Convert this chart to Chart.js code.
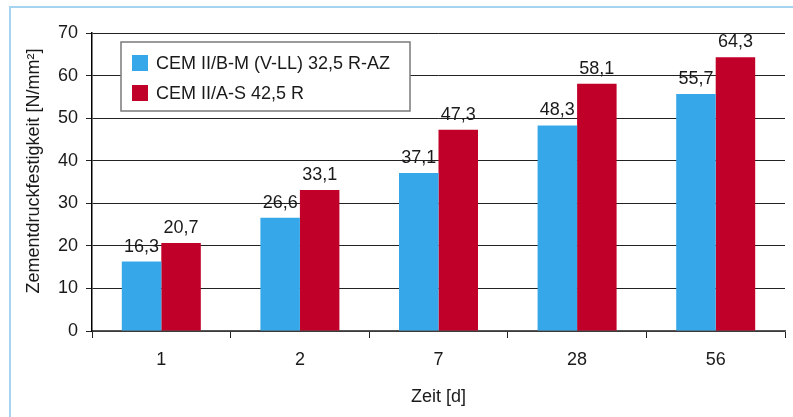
<!DOCTYPE html>
<html>
<head>
<meta charset="utf-8">
<script src="https://cdn.jsdelivr.net/npm/chart.js@4/dist/chart.umd.min.js"></script>
<style>
  html, body { margin: 0; padding: 0; background: #fff; }
  #wrap { width: 793px; height: 417px; position: relative; }
</style>
</head>
<body>
<div id="wrap"><canvas id="c" width="793" height="417"></canvas></div>
<script>
// Age of the specimens in days
const categories = ['1', '2', '7', '28', '56'];
// Compressive strength in N/mm²
const seriesNames = ['CEM II/B-M (V-LL) 32,5 R-AZ', 'CEM II/A-S 42,5 R'];
const cemBM = [16.3, 26.6, 37.1, 48.3, 55.7];
const cemAS = [20.7, 33.1, 47.3, 58.1, 64.3];
const yTicks = [0, 10, 20, 30, 40, 50, 60, 70];
const yTitle = 'Zementdruckfestigkeit [N/mm²]';
const xTitle = 'Zeit [d]';

const FONT = 'Liberation Sans, Arial, Helvetica, sans-serif';
const TEXT = '#1a1a1a';
const BLUE = '#36a7e8';
const RED = '#c00028';

// light blue page frame on the left and top
const framePlugin = {
  id: 'frame',
  beforeDraw(chart) {
    const ctx = chart.ctx;
    ctx.save();
    ctx.strokeStyle = '#a6d3f0';
    ctx.lineWidth = 2;
    ctx.beginPath();
    ctx.moveTo(10, 417);
    ctx.lineTo(10, 7);
    ctx.lineTo(793, 7);
    ctx.stroke();
    ctx.restore();
  }
};

// rotated y axis title, sitting a little above the axis middle
const yTitlePlugin = {
  id: 'yTitle',
  afterDraw(chart) {
    const ctx = chart.ctx;
    ctx.save();
    ctx.font = '18px ' + FONT;
    ctx.fillStyle = TEXT;
    ctx.textAlign = 'center';
    ctx.textBaseline = 'middle';
    ctx.translate(34, 171);
    ctx.rotate(-Math.PI / 2);
    ctx.fillText(yTitle, 0, 0);
    ctx.restore();
  }
};

// value labels above each bar, German decimal comma
const valueLabels = {
  id: 'valueLabels',
  afterDatasetsDraw(chart) {
    const ctx = chart.ctx;
    ctx.save();
    ctx.font = '18px ' + FONT;
    ctx.fillStyle = TEXT;
    ctx.textAlign = 'center';
    ctx.textBaseline = 'alphabetic';
    chart.data.datasets.forEach((ds, i) => {
      chart.getDatasetMeta(i).data.forEach((bar, j) => {
        const txt = ds.data[j].toFixed(1).replace('.', ',');
        ctx.fillText(txt, bar.x, bar.y - 10);
      });
    });
    ctx.restore();
  }
};

// boxed legend inside the plot area
const boxLegend = {
  id: 'boxLegend',
  afterDraw(chart) {
    const ctx = chart.ctx;
    const x = 121, y = 42, w = 289, h = 69;
    ctx.save();
    ctx.fillStyle = '#fff';
    ctx.fillRect(x, y, w, h);
    ctx.strokeStyle = '#7a7a7a';
    ctx.lineWidth = 1.5;
    ctx.strokeRect(x, y, w, h);
    ctx.font = '18px ' + FONT;
    ctx.textBaseline = 'middle';
    chart.data.datasets.forEach((ds, i) => {
      const ry = 63 + i * 30;
      ctx.fillStyle = ds.backgroundColor;
      ctx.fillRect(132, ry - 8, 16, 16);
      ctx.fillStyle = TEXT;
      ctx.fillText(ds.label, 156, ry + 1);
    });
    ctx.restore();
  }
};

new Chart(document.getElementById('c'), {
  type: 'bar',
  data: {
    labels: categories,
    datasets: [
      { label: seriesNames[0], data: cemBM, backgroundColor: BLUE },
      { label: seriesNames[1], data: cemAS, backgroundColor: RED }
    ]
  },
  options: {
    responsive: false,
    animation: false,
    layout: { padding: { left: 0, right: 8, top: 33, bottom: 0 } },
    datasets: { bar: { categoryPercentage: 0.57, barPercentage: 1.0, borderWidth: 0 } },
    plugins: { legend: { display: false }, tooltip: { enabled: false } },
    scales: {
      x: {
        grid: { drawOnChartArea: false, drawTicks: true, tickLength: 7, color: '#222', offset: true },
        border: { color: '#555', width: 1.5 },
        ticks: { color: TEXT, font: { family: FONT, size: 18 }, padding: 11, maxRotation: 0 },
        title: { display: true, text: xTitle, color: TEXT, font: { family: FONT, size: 18 }, padding: { top: 0, bottom: 9 } },
        afterFit(s) { s.height = 86; }
      },
      y: {
        min: 0, max: 70,
        afterBuildTicks(s) { s.ticks = yTicks.map(v => ({ value: v })); },
        grid: { color: '#222', lineWidth: 1, tickLength: 6 },
        border: { color: '#000', width: 1.5 },
        ticks: { color: TEXT, font: { family: FONT, size: 18 }, padding: 8 },
        title: { display: false },
        afterFit(s) { s.width = 92; }
      }
    }
  },
  plugins: [framePlugin, valueLabels, boxLegend, yTitlePlugin]
});
</script>
</body>
</html>
